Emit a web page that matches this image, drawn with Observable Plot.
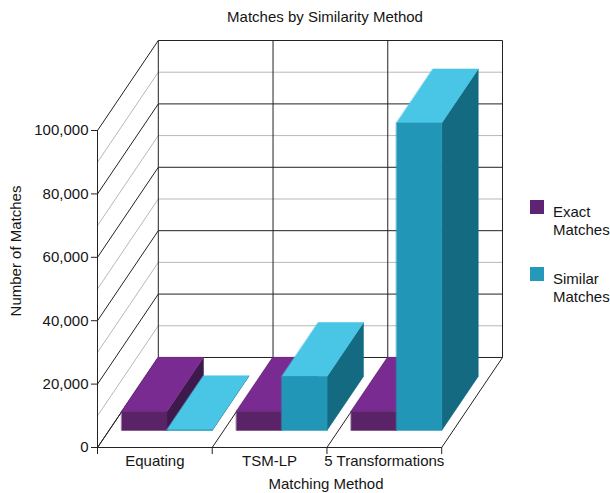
<!DOCTYPE html>
<html>
<head>
<meta charset="utf-8">
<script src="https://cdn.jsdelivr.net/npm/d3@7"></script>
<script src="https://cdn.jsdelivr.net/npm/@observablehq/plot@0.6"></script>
<style>
  html, body { margin: 0; padding: 0; background: #fff; }
  #chart { position: relative; width: 610px; height: 493px; overflow: hidden;
           font-family: "Liberation Sans", Arial, sans-serif; color: #151515; }
  #chart svg { position: absolute; left: 0; top: 0; }
  .lbl { position: absolute; font-size: 15px; line-height: 18px; white-space: nowrap; }
  .swatch { position: absolute; width: 14px; height: 14px; }
</style>
</head>
<body>
<div id="chart"></div>
<script>
// ---- data ----
const categories = ["Equating", "TSM-LP", "5 Transformations"];
const exactMatches = [6000, 6000, 6000];
const similarMatches = [200, 17000, 97000];
const seriesNames = ["Exact Matches", "Similar Matches"];
const yTicks = [0, 20000, 40000, 60000, 80000, 100000];
const gridStep = 10000;
const wallTop = 100000;

// face shades per series: lit top, front, shaded side, legend swatch
const seriesColors = [
  {top: "#7a2b91", front: "#5b2367", side: "#3e1a4c", swatch: "#5e2373"},
  {top: "#49c5e5", front: "#2196b6", side: "#146a80", swatch: "#2499b9"}
];

// oblique projection: depth d in [0,1] shifts a point right and up
const DX = 0.53;     // category units at full depth
const DY = 28400;    // value units at full depth
const project = (u, v, d) => ({x: u + d * DX, y: v + d * DY});

// bars sit in this depth slab, at these offsets inside each category
const barDepth = [0.19, 0.79];
const barInset = 0.11;
const barWidth = 0.395;

const n = categories.length;
const BLACK = "#222", GRAY = "#b8b8b8";

// grid on the back wall and the left wall
const minorLines = [], majorLines = [];
for (let v = 0; v <= wallTop; v += gridStep) {
  const target = v % 20000 === 0 ? majorLines : minorLines;
  const front = project(0, v, 0), backL = project(0, v, 1), backR = project(n, v, 1);
  target.push({x1: backL.x, y1: backL.y, x2: backR.x, y2: backR.y});
  target.push({x1: front.x, y1: front.y, x2: backL.x, y2: backL.y});
}
// wall verticals and floor edges
for (let u = 0; u <= n; u++) {
  const b0 = project(u, 0, 1), b1 = project(u, wallTop, 1), f = project(u, 0, 0);
  majorLines.push({x1: b0.x, y1: b0.y, x2: b1.x, y2: b1.y});
  majorLines.push({x1: f.x, y1: f.y, x2: b0.x, y2: b0.y});
}
{
  const a = project(0, 0, 0), b = project(n, 0, 0);
  majorLines.push({x1: a.x, y1: a.y, x2: b.x, y2: b.y});
}

// bar faces, painted back-to-front (left to right; side, top, front)
const faces = [];
categories.forEach((cat, i) => {
  [exactMatches[i], similarMatches[i]].forEach((v, s) => {
    const u0 = i + barInset + s * barWidth, u1 = u0 + barWidth;
    const [d0, d1] = barDepth;
    const c = seriesColors[s];
    const poly = (name, pts, color) =>
      pts.forEach(([u, vv, d]) => faces.push({id: `${i}-${s}-${name}`, ...project(u, vv, d), color}));
    poly("side",  [[u1, 0, d0], [u1, 0, d1], [u1, v, d1], [u1, v, d0]], c.side);
    poly("top",   [[u0, v, d0], [u1, v, d0], [u1, v, d1], [u0, v, d1]], c.top);
    poly("front", [[u0, 0, d0], [u1, 0, d0], [u1, v, d0], [u0, v, d0]], c.front);
  });
});

const plot = Plot.plot({
  width: 610,
  height: 493,
  marginLeft: 97,
  marginRight: 108,
  marginTop: 40,
  marginBottom: 46,
  x: {domain: [0, n + DX]},
  y: {domain: [0, wallTop + DY]},
  color: {type: "identity"},
  style: {fontFamily: "'Liberation Sans', Arial, sans-serif", fontSize: "15px", color: "#151515", background: "transparent", overflow: "visible"},
  marks: [
    Plot.link(minorLines, {x1: "x1", y1: "y1", x2: "x2", y2: "y2", stroke: GRAY, strokeWidth: 1}),
    Plot.link(majorLines, {x1: "x1", y1: "y1", x2: "x2", y2: "y2", stroke: BLACK, strokeWidth: 1}),
    Plot.line(faces, {x: "x", y: "y", z: "id", fill: "color", stroke: "color", strokeWidth: 0.5, curve: "linear-closed"}),
    Plot.ruleX([0], {y1: 0, y2: wallTop, stroke: BLACK}),
    Plot.axisY({ticks: yTicks, tickFormat: d3.format(","), tickSize: 6, tickPadding: 3, label: null, fontSize: 15, stroke: BLACK}),
    Plot.axisX({ticks: d3.range(n + 1), tickFormat: () => "", tickSize: 7, label: null, stroke: BLACK}),
    Plot.axisX({ticks: categories.map((_, i) => i + 0.5), tickFormat: t => categories[Math.floor(t)], tickSize: 0, tickPadding: 8, label: null, fontSize: 15})
  ]
});

const chart = document.getElementById("chart");
chart.appendChild(plot);

function addLabel(text, css) {
  const el = document.createElement("div");
  el.className = "lbl";
  el.innerHTML = text;
  Object.assign(el.style, css);
  chart.appendChild(el);
  return el;
}

addLabel("Matches by Similarity Method", {left: "325px", top: "8px", transform: "translateX(-50%)"});
addLabel("Matching Method", {left: "326px", top: "475px", transform: "translateX(-50%)"});
addLabel("Number of Matches", {left: "16px", top: "251px", transform: "translate(-50%, -50%) rotate(-90deg)"});

// legend
seriesNames.forEach((name, s) => {
  const top = 200 + s * 67;
  const sw = document.createElement("div");
  sw.className = "swatch";
  Object.assign(sw.style, {left: "530px", top: top + "px", background: seriesColors[s].swatch});
  chart.appendChild(sw);
  addLabel(name.split(" ").join("<br>"), {left: "553px", top: (top + 3) + "px"});
});
</script>
</body>
</html>
